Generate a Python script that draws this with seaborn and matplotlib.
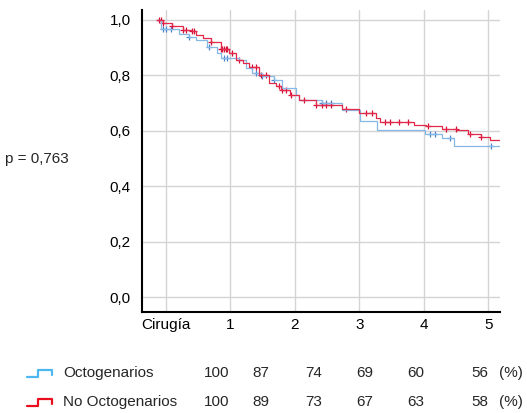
import numpy as np
import pandas as pd
import matplotlib
matplotlib.use("Agg")
import matplotlib.pyplot as plt
import seaborn as sns
from matplotlib.lines import Line2D

# step curves (x in axis units, tick "Cirugía" = 0)
red_t = [-0.13, -0.05, 0.10, 0.26, 0.41, 0.46, 0.58, 0.70, 0.85, 0.98, 1.08, 1.20, 1.29, 1.44, 1.60,
         1.70, 1.78, 1.93, 2.06, 2.32, 2.73, 2.99, 3.25, 3.32, 3.84, 4.04, 4.28, 4.51, 4.69, 4.89, 5.02, 5.18]
red_s = [1.00, 0.99, 0.98, 0.965, 0.96, 0.946, 0.934, 0.92, 0.895, 0.88, 0.856, 0.845, 0.832, 0.80, 0.772,
         0.76, 0.748, 0.73, 0.71, 0.694, 0.679, 0.664, 0.646, 0.63, 0.622, 0.616, 0.608, 0.602, 0.59, 0.578, 0.568, 0.568]
blue_t = [-0.13, -0.08, 0.21, 0.36, 0.46, 0.64, 0.80, 0.85, 1.13, 1.24, 1.34, 1.49, 1.67, 1.80, 2.01, 2.06,
          2.42, 2.73, 3.01, 3.27, 4.02, 4.28, 4.47, 5.18]
blue_s = [1.00, 0.966, 0.95, 0.94, 0.928, 0.904, 0.88, 0.862, 0.856, 0.826, 0.808, 0.796, 0.784, 0.754, 0.73, 0.712,
          0.70, 0.676, 0.634, 0.604, 0.59, 0.574, 0.544, 0.544]

# censored times
red_cens = [-0.10, -0.07, -0.05, 0.10, 0.26, 0.31, 0.41, 0.44, 0.70, 0.86, 0.87, 0.90, 0.93, 0.95, 1.03, 1.13,
            1.34, 1.39, 1.48, 1.55, 1.75, 1.80, 1.86, 1.94, 2.14, 2.32, 2.42, 2.48, 2.56, 2.79, 3.10, 3.19,
            3.40, 3.48, 3.61, 3.76, 4.07, 4.35, 4.50, 4.72, 4.89]
blue_cens = [-0.05, 0.0, 0.08, 0.36, 0.67, 0.90, 0.95, 1.39, 1.49, 1.67, 2.42, 2.48, 2.56, 4.10, 4.18, 4.41, 5.04]

x_ticks = [0, 1, 2, 3, 4, 5]
x_labels = ["Cirugía", "1", "2", "3", "4", "5"]
y_ticks = [0.0, 0.2, 0.4, 0.6, 0.8, 1.0]

groups = ["Octogenarios", "No Octogenarios"]
oct_pct = [100, 87, 74, 69, 60, 56]
no_oct_pct = [100, 89, 73, 67, 63, 58]
p_text = "p = 0,763"

sns.set_theme(style="whitegrid")
plt.rcParams["font.family"] = ["Liberation Sans", "DejaVu Sans"]

fig = plt.figure(figsize=(5.27, 4.13), dpi=100)
ax = fig.add_axes([142 / 527, 1 - 312 / 413, (500 - 142) / 527, (312 - 10) / 413])


def censor_points(t, s, cens):
    t = np.asarray(t)
    idx = np.searchsorted(t, cens, side="right") - 1
    return pd.DataFrame({"t": cens, "s": np.asarray(s)[idx]})


for t, s, cens, lc, mc in [(blue_t, blue_s, blue_cens, "#86B8E6", "#4A86CF"),
                           (red_t, red_s, red_cens, "#E3294A", "#D4113A")]:
    sns.lineplot(x=t, y=s, ax=ax, drawstyle="steps-post", estimator=None,
                 color=lc, linewidth=0.9)
    cp = censor_points(t, s, cens)
    sns.scatterplot(data=cp, x="t", y="s", ax=ax, marker="+", color=mc,
                    s=22, linewidth=0.9)

ax.set_xlim(-0.37, 5.18)
ax.set_ylim(-0.054, 1.036)
ax.set_xticks(x_ticks)
ax.set_xticklabels(x_labels)
ax.set_yticks(y_ticks)
ax.set_yticklabels([f"{v:.1f}".replace(".", ",") for v in y_ticks])
ax.set_xlabel("")
ax.set_ylabel("")
ax.grid(True, color="#d4d4d4", linewidth=1.0)
ax.tick_params(axis="both", length=0, labelsize=11, colors="black")
ax.tick_params(axis="y", pad=8)
ax.tick_params(axis="x", pad=4)
for side in ["top", "right"]:
    ax.spines[side].set_visible(False)
for side in ["left", "bottom"]:
    ax.spines[side].set_color("black")
    ax.spines[side].set_linewidth(1.5)

fig.text(5 / 527, 1 - 159 / 413, p_text, fontsize=11, va="center", ha="left")

# legend table under the plot
col_x = [217, 261, 314, 365, 416, 480]
rows = [(groups[0], oct_pct, 373, "#4DB8F0"), (groups[1], no_oct_pct, 402, "#E8101E")]
for name, vals, yp, c in rows:
    yf = 1 - yp / 413
    xs = np.array([27, 38, 38, 52, 52]) / 527
    ys = yf + np.array([-4, -4, 3, 3, -2]) / 413
    fig.add_artist(Line2D(xs, ys, color=c, linewidth=1.6, transform=fig.transFigure))
    fig.text(63 / 527, yf, name, fontsize=11, va="center", ha="left")
    for cx, v in zip(col_x, vals):
        fig.text(cx / 527, yf, str(v), fontsize=11, va="center", ha="center")
    fig.text(499 / 527, yf, "(%)", fontsize=11, va="center", ha="left")

fig.savefig("out.png", dpi=100)
